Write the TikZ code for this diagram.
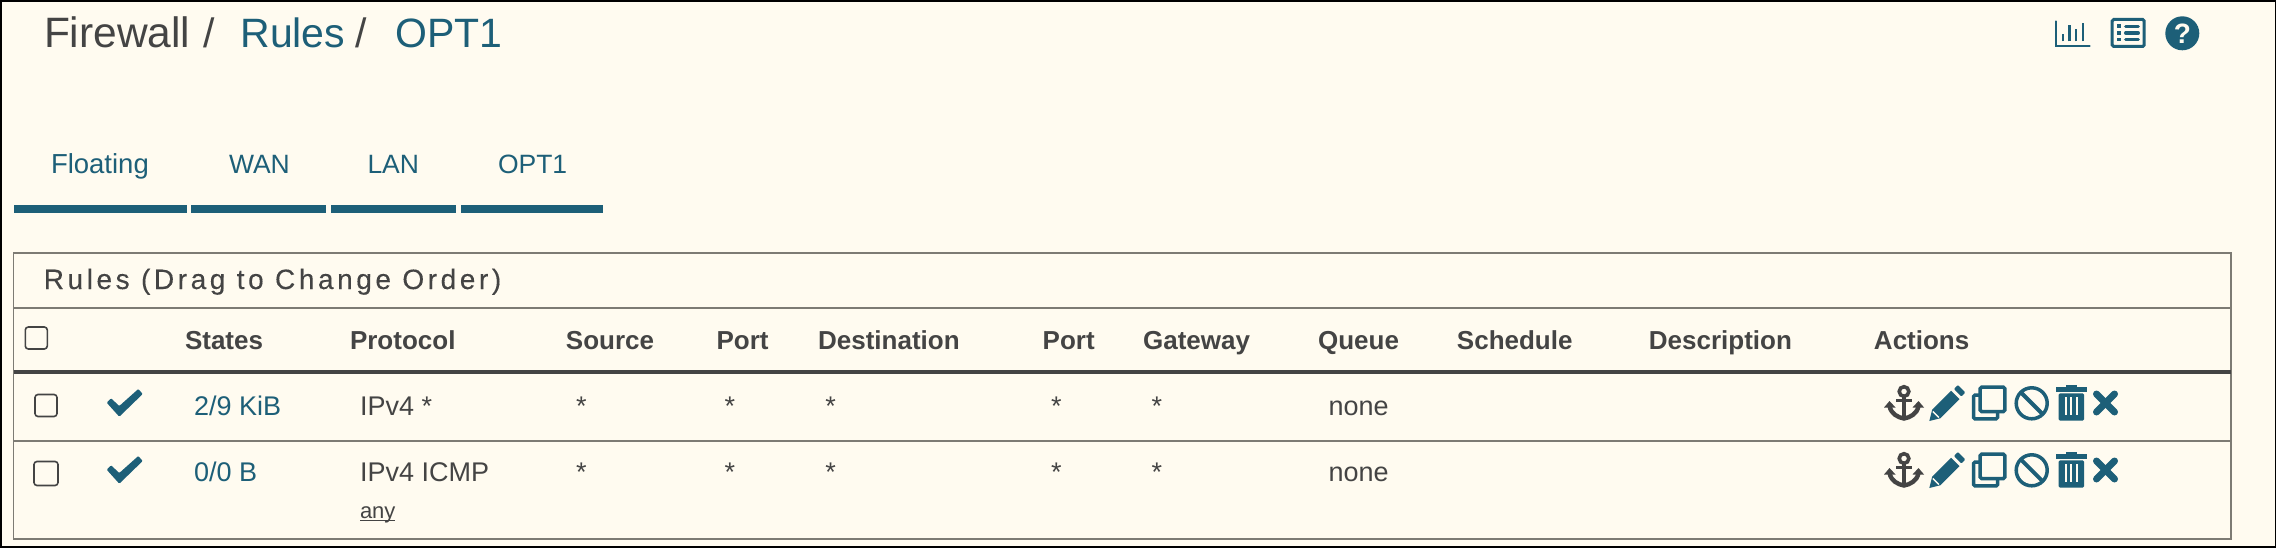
\documentclass[tikz,border=0pt]{standalone}
\usepackage{fontspec}
\setmainfont{Liberation Sans}
\newfontfamily\spacedfont[LetterSpace=12.8,FakeBold=0.2]{Liberation Sans}
\usetikzlibrary{positioning}

\definecolor{pagebg}{HTML}{FFFBF0}
\definecolor{teal}{HTML}{1D5F78}
\definecolor{inkdark}{HTML}{444444}
\definecolor{rulegray}{HTML}{7D7B74}

\tikzset{
	chkmark/.pic={\fill [teal, rounded corners=1pt] (-18.3,-0.3)--(-14,-4.7)--(-5.7,3)--(13.3,-14)--(17.7,-9)--(-5.7,13.7)--cycle;},
	anchoricon/.pic={
		\draw [inkdark, line width=3.6] (0,-11.5) circle (4.8);
		\draw [inkdark, line width=3.4] (-8,-2.5)--(8,-2.5);
		\draw [inkdark, line width=4.4] (0,-6)--(0,16);
		\draw [inkdark, line width=4.4] (-14.5,3) .. controls (-13,11) and (-6,14.5) .. (0,15.5) .. controls (6,14.5) and (13,11) .. (14.5,3);
		\fill [inkdark] (-20,4.5)--(-8.5,4.5)--(-14.5,-2)--cycle;
		\fill [inkdark] (20,4.5)--(8.5,4.5)--(14.5,-2)--cycle;
	},
	pencilicon/.pic={
		\fill [teal] (-18,18)--(-15.2,6.8)--(3.8,-12.2)--(12.2,-3.8)--(-6.8,15.2)--cycle;
		\fill [teal, rounded corners=1pt] (6.5,-14)--(10.5,-18)--(18,-10.5)--(14,-6.5)--cycle;
		\draw [pagebg, line width=1.5] (-14.5,8.5)--(-8.5,14.5);
	},
	copyicon/.pic={
		\draw [teal, line width=3.5, rounded corners=1.5pt] (-9,-15.8) rectangle (15.7,8.5);
		\draw [teal, line width=3.5, rounded corners=1.5pt] (-10,-8)--(-15.7,-8)--(-15.7,15.8)--(8.5,15.8)--(8.5,9.5);
	},
	banicon/.pic={
		\draw [teal, line width=3.5] (0,0) circle (15.5);
		\draw [teal, line width=4] (-11,-11)--(11,11);
	},
	trashicon/.pic={
		\fill [teal] (-15.7,-15.7) rectangle (15.7,-11.3);
		\fill [teal] (-5.3,-18) rectangle (5.3,-15);
		\fill [teal, rounded corners=1.5pt] (-12.8,-9.7) rectangle (12.8,17.7);
		\fill [pagebg] (-6.4,-6.3) rectangle (-4.2,12);
		\fill [pagebg] (-1.1,-6.3) rectangle (1.1,12);
		\fill [pagebg] (4.2,-6.3) rectangle (6.4,12);
	},
	crossicon/.pic={
		\draw [teal, line width=7, line cap=round] (-9,-9)--(9,9);
		\draw [teal, line width=7, line cap=round] (-9,9)--(9,-9);
	},
	charticon/.pic={
		\draw [teal, line width=2.5, line cap=round] (-16.5,-12)--(-16.5,12.5)--(17,12.5);
		\draw [teal, line width=2.8] (-9.5,8)--(-9.5,1);
		\draw [teal, line width=2.8] (-3,8)--(-3,-8);
		\draw [teal, line width=2.8] (3.5,8)--(3.5,-4);
		\draw [teal, line width=2.8] (10.5,8)--(10.5,-10);
	},
	listicon/.pic={
		\draw [teal, line width=3, rounded corners=1.5pt] (-16,-13.5) rectangle (16,13.5);
		\fill [teal] (-11,-8.5) rectangle (-7.5,-5);
		\fill [teal] (-11,-1.7) rectangle (-7.5,1.7);
		\fill [teal] (-11,5) rectangle (-7.5,8.5);
		\draw [teal, line width=3.5, line cap=round] (-2.5,-6.7)--(10,-6.7);
		\draw [teal, line width=3.5, line cap=round] (-2.5,0)--(10,0);
		\draw [teal, line width=3.5, line cap=round] (-2.5,6.7)--(10,6.7);
	}
}

\begin{document}
\begin{tikzpicture}[
	x=1pt, y=-1pt,
	title/.style={anchor=base west, inner sep=0pt, outer sep=0pt, text=inkdark, font=\fontsize{41}{46}\selectfont},
	tab/.style={anchor=base west, inner sep=0pt, outer sep=0pt, text=teal, font=\fontsize{26.5}{30}\selectfont},
	tabbar/.style={rectangle, fill=teal, inner sep=0pt, outer sep=0pt, minimum height=8pt},
	head/.style={anchor=base west, inner sep=0pt, outer sep=0pt, text=inkdark, font=\fontsize{26}{30}\selectfont\bfseries},
	cell/.style={anchor=base west, inner sep=0pt, outer sep=0pt, text=inkdark, font=\fontsize{27}{30}\selectfont},
	chkbox/.style={rectangle, rounded corners=3pt, draw=inkdark, line width=1.6pt, inner sep=0pt, outer sep=0pt, minimum width=22pt, minimum height=22pt},
	rowline/.style={draw=rulegray, line width=1.5pt}
	]

	\useasboundingbox (0,0) rectangle (2276,548);
	\fill [black] (0,0) rectangle (2276,548);
	\fill [pagebg] (1.5,2) rectangle (2275,546);

	% breadcrumb
	\node (fwtitle) [title, font=\fontsize{42.5}{46}\selectfont] at (44,48) {Firewall};
	\node (slashone) [title, base right=13pt of fwtitle] {/};
	\node (rulestitle) [title, text=teal, base right=25.6pt of slashone] {Rules};
	\node (slashtwo) [title, base right=10pt of rulestitle] {/};
	\node (opttitle) [title, text=teal, base right=28.6pt of slashtwo] {OPT1};

	% top right icons
	\pic (chart) at (2072.5,33.5) {charticon};
	\pic (list) at (2128.2,33) {listicon};
	\node (help) [circle, fill=teal, inner sep=0pt, outer sep=0pt, minimum size=34pt, text=pagebg, font=\fontsize{28}{30}\selectfont\bfseries] at (2182.3,33.3) {?};

	% tabs
	\node (tabfloating) [tab, font=\fontsize{27.5}{30}\selectfont] at (51,174) {Floating};
	\node (tabwan) [tab] at (229,174) {WAN};
	\node (tablan) [tab] at (367.5,174) {LAN};
	\node (tabopt) [tab] at (498,174) {OPT1};
	\node (barfloating) [tabbar, anchor=west, minimum width=173.5pt] at (13.5,209) {};
	\node (barwan) [tabbar, right=4pt of barfloating, minimum width=135pt] {};
	\node (barlan) [tabbar, right=4.5pt of barwan, minimum width=125.5pt] {};
	\node (baropt) [tabbar, right=4.5pt of barlan, minimum width=142pt] {};

	% panel
	\node (panel) [rectangle, draw=rulegray, line width=1.5pt, inner sep=0pt, outer sep=0pt, anchor=north west, minimum width=2217.5pt, minimum height=286pt] at (13.5,253) {};
	\node (paneltitle) [anchor=base west, inner sep=0pt, text=inkdark, font=\fontsize{28}{30}\selectfont\spacedfont] at (43.6,289) {Rules (Drag to Change Order)};
	\draw [rowline] (panel.west |- 0,308) -- (panel.east |- 0,308);
	\draw [draw=inkdark, line width=3.5pt] (panel.west |- 0,372) -- (panel.east |- 0,372);
	\draw [rowline] (panel.west |- 0,441) -- (panel.east |- 0,441);

	% header row
	\node (chkhead) [chkbox] at (36.3,338) {};
	\node (hstates) [head] at (185,349) {States};
	\node (hprotocol) [head, base right=87pt of hstates] {Protocol};
	\node (hsource) [head, base right=110.5pt of hprotocol] {Source};
	\node (hsport) [head, base right=62.5pt of hsource] {Port};
	\node (hdest) [head, base right=49.5pt of hsport] {Destination};
	\node (hdport) [head, base right=83pt of hdest] {Port};
	\node (hgateway) [head, base right=48.4pt of hdport] {Gateway};
	\node (hqueue) [head, base right=68pt of hgateway] {Queue};
	\node (hschedule) [head, base right=58pt of hqueue] {Schedule};
	\node (hdescr) [head, base right=76.4pt of hschedule] {Description};
	\node (hactions) [head, base right=82pt of hdescr] {Actions};

	% first rule
	\node (chkone) [chkbox] at (46,405.5) {};
	\pic (tickone) at (125,403) {chkmark};
	\node (statesone) [cell, text=teal] at (194,415) {2/9 KiB};
	\node (protoone) [cell] at (360,415) {IPv4 *};
	\node (srcone) [cell] at (576,415) {*};
	\node (sportone) [cell] at (724.7,415) {*};
	\node (destone) [cell] at (825.4,415) {*};
	\node (dportone) [cell] at (1051,415) {*};
	\node (gwone) [cell] at (1151.7,415) {*};
	\node (queueone) [cell] at (1328.6,415) {none};
	\pic (anchorone) at (1904,403) {anchoricon};
	\pic (pencilone) at (1947.3,403) {pencilicon};
	\pic (copyone) at (1989.2,403) {copyicon};
	\pic (banone) at (2031.7,403.3) {banicon};
	\pic (trashone) at (2071.3,403) {trashicon};
	\pic (crossone) at (2105.5,403) {crossicon};

	% second rule
	\node (chktwo) [chkbox, minimum width=24pt, minimum height=24pt] at (46,473.5) {};
	\pic (ticktwo) at (125,470) {chkmark};
	\node (statestwo) [cell, text=teal] at (194,481.7) {0/0 B};
	\node (prototwo) [cell] at (360,481.7) {IPv4 ICMP};
	\node (anytwo) [cell, font=\fontsize{22}{24}\selectfont] at (360,518) {any};
	\draw [draw=inkdark, line width=1.3pt] ([yshift=-2.6pt]anytwo.base west) -- ([yshift=-2.6pt]anytwo.base east);
	\node (srctwo) [cell] at (576,481.7) {*};
	\node (sporttwo) [cell] at (724.7,481.7) {*};
	\node (desttwo) [cell] at (825.4,481.7) {*};
	\node (dporttwo) [cell] at (1051,481.7) {*};
	\node (gwtwo) [cell] at (1151.7,481.7) {*};
	\node (queuetwo) [cell] at (1328.6,481.7) {none};
	\pic (anchortwo) at (1904,470) {anchoricon};
	\pic (penciltwo) at (1947.3,470) {pencilicon};
	\pic (copytwo) at (1989.2,470) {copyicon};
	\pic (bantwo) at (2031.7,470.3) {banicon};
	\pic (trashtwo) at (2071.3,470) {trashicon};
	\pic (crosstwo) at (2105.5,470) {crossicon};

\end{tikzpicture}
\end{document}
